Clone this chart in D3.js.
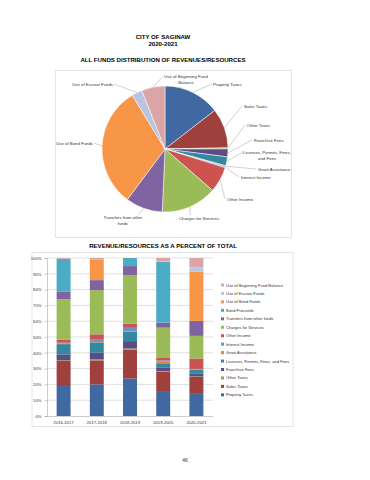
<!DOCTYPE html>
<html>
<head>
<meta charset="utf-8">
<script src="https://cdn.jsdelivr.net/npm/d3@7"></script>
<style>
  body { margin: 0; background: #fff; }
  text { font-family: "Liberation Sans", Arial, sans-serif; }
</style>
</head>
<body>
<svg id="chart" width="370" height="480"></svg>
<script>
// fiscal years on the stacked chart
const years = ["2016-2017", "2017-2018", "2018-2019", "2019-2020", "2020-2021"];

// share of total (percent) for each revenue source, one value per year
const propertyTaxes = [19.0, 20.0, 23.8, 15.8, 14.5];
const salesTaxes = [15.8, 15.2, 18.3, 12.3, 10.2];
const otherTaxes = [0.4, 0.6, 0.6, 0.3, 0.3];
const franchiseFees = [3.8, 4.2, 4.7, 2.4, 2.0];
const licenses = [6.5, 6.6, 5.9, 2.1, 2.3];
const grantAssistance = [0.3, 0.3, 0.3, 1.5, 0.2];
const interestIncome = [0.6, 1.4, 2.2, 0.8, 0.3];
const otherIncome = [2.0, 3.4, 2.7, 1.9, 6.6];
const chargesForServices = [25.5, 28.0, 30.7, 18.8, 14.3];
const transfers = [4.7, 6.3, 5.7, 3.2, 9.5];
const bondProceeds = [20.9, 0, 5.1, 38.5, 0];
const useOfBondFunds = [0, 13.2, 0, 0, 31.1];
const useOfEscrow = [0, 0, 0, 0.5, 2.7];
const useOfFundBalance = [0.5, 0.8, 0, 1.9, 6.0];

const categories = [
  "Property Taxes", "Sales Taxes", "Other Taxes", "Franchise Fees",
  "Licenses, Permits, Fines, and Fees", "Grant Assistance", "Interest Income",
  "Other Income", "Charges for Services", "Transfers from other funds",
  "Bond Proceeds", "Use of Bond Funds", "Use of Escrow Funds",
  "Use of Beginning Fund Balance"
];
const series = [
  propertyTaxes, salesTaxes, otherTaxes, franchiseFees, licenses,
  grantAssistance, interestIncome, otherIncome, chargesForServices,
  transfers, bondProceeds, useOfBondFunds, useOfEscrow, useOfFundBalance
];
const yTicks = [0, 10, 20, 30, 40, 50, 60, 70, 80, 90, 100];

const colors = [
  "#4068a1", "#a0403d", "#8da850", "#5e4a85", "#31889f", "#db843d", "#6e90c4",
  "#cd5350", "#9bbb59", "#8064a2", "#4bacc6", "#f79646", "#b7c5e0", "#dba5a7"
];

// pie label text (line breaks) and where Excel put them
const pieLabelText = {
  "Property Taxes": ["Property Taxes"],
  "Sales Taxes": ["Sales Taxes"],
  "Other Taxes": ["Other Taxes"],
  "Franchise Fees": ["Franchise Fees"],
  "Licenses, Permits, Fines, and Fees": ["Licenses, Permits, Fines,", "and Fees"],
  "Grant Assistance": ["Grant Assistance"],
  "Interest Income": ["Interest Income"],
  "Other Income": ["Other Income"],
  "Charges for Services": ["Charges for Services"],
  "Transfers from other funds": ["Transfers from other", "funds"],
  "Use of Bond Funds": ["Use of Bond Funds"],
  "Use of Escrow Funds": ["Use of Escrow Funds"],
  "Use of Beginning Fund Balance": ["Use of Beginning Fund", "Balance"]
};
const pieLabelAt = {
  "Property Taxes": [213, 84, "start", 212, 84],
  "Sales Taxes": [244, 106, "start", 242, 106],
  "Other Taxes": [247, 125, "start", 245, 125],
  "Franchise Fees": [254, 140, "start", 252, 140],
  "Licenses, Permits, Fines, and Fees": [267, 152, "middle", 243, 152],
  "Grant Assistance": [258, 169, "start", 256, 169],
  "Interest Income": [241, 177, "start", 239, 177],
  "Other Income": [227, 199, "start", 225, 199],
  "Charges for Services": [199, 218, "middle", 190, 215],
  "Transfers from other funds": [123, 217, "middle", 138, 215],
  "Use of Bond Funds": [93, 143, "end", 94, 143],
  "Use of Escrow Funds": [113, 84, "end", 114, 84],
  "Use of Beginning Fund Balance": [186, 76, "middle", 163, 76]
};

const svg = d3.select("#chart");
svg.append("rect").attr("width", 370).attr("height", 480).attr("fill", "#fff");

// titles
const titles = [
  ["CITY OF SAGINAW", 38.5], ["2020-2021", 45.5],
  ["ALL FUNDS DISTRIBUTION OF REVENUES/RESOURCES", 62],
  ["REVENUE/RESOURCES AS A PERCENT OF TOTAL", 248]
];
svg.selectAll(".title").data(titles).enter().append("text")
  .attr("class", "title")
  .attr("x", 163).attr("y", (d) => d[1])
  .attr("text-anchor", "middle")
  .attr("font-size", 6.1).attr("font-weight", "bold")
  .text((d) => d[0]);

// ---- pie ----
svg.append("rect").attr("x", 55.5).attr("y", 70.5).attr("width", 236).attr("height", 167)
  .attr("fill", "none").attr("stroke", "#d9d9d9").attr("stroke-width", 0.7);

const lastYear = years.length - 1;
const pieData = categories.map((c, i) => ({ name: c, value: series[i][lastYear], color: colors[i] }));
const cx = 165, cy = 149, r = 63;
const pie = d3.pie().sort(null).value((d) => d.value);
const arc = d3.arc().innerRadius(0).outerRadius(r);
const arcs = pie(pieData).filter((d) => d.data.value > 0);

const pieG = svg.append("g").attr("transform", `translate(${cx},${cy})`);
pieG.selectAll("path").data(arcs).enter().append("path")
  .attr("d", arc)
  .attr("fill", (d) => d.data.color)
  .attr("stroke", "#fff").attr("stroke-width", 0.5);

const labelG = svg.append("g");
arcs.forEach((d) => {
  const pos = pieLabelAt[d.data.name];
  if (!pos) return;
  const mid = (d.startAngle + d.endAngle) / 2;
  const sx = cx + r * Math.sin(mid), sy = cy - r * Math.cos(mid);
  labelG.append("line")
    .attr("x1", sx).attr("y1", sy).attr("x2", pos[3]).attr("y2", pos[4])
    .attr("stroke", "#8c8c8c").attr("stroke-width", 0.4);
  const t = labelG.append("text")
    .attr("x", pos[0]).attr("y", pos[1] + 1.5)
    .attr("text-anchor", pos[2])
    .attr("font-size", 4.3).attr("fill", "#333");
  pieLabelText[d.data.name].forEach((line, k) => {
    t.append("tspan").attr("x", pos[0]).attr("dy", k ? 6 : 0).text(line);
  });
});

// ---- stacked 100% bars ----
svg.append("rect").attr("x", 32).attr("y", 252.5).attr("width", 261).attr("height", 174)
  .attr("fill", "none").attr("stroke", "#d9d9d9").attr("stroke-width", 0.7);

const table = years.map((y, j) => {
  const row = { year: y };
  categories.forEach((c, i) => { row[c] = series[i][j]; });
  return row;
});

const x = d3.scaleBand().domain(years).range([47, 213]).paddingInner(0.58).paddingOuter(0.29);
const y = d3.scaleLinear().domain([0, 100]).range([416, 258]);

// gridlines
svg.append("g").selectAll("line").data(yTicks.slice(1)).enter().append("line")
  .attr("x1", 47).attr("x2", 213)
  .attr("y1", (d) => y(d)).attr("y2", (d) => y(d))
  .attr("stroke", "#bfbfbf").attr("stroke-width", 0.5);

const stack = d3.stack().keys(categories);
const layers = stack(table);
const barG = svg.append("g");
barG.selectAll("g").data(layers).enter().append("g")
  .attr("fill", (d, i) => colors[i])
  .selectAll("rect").data((d) => d).enter().append("rect")
  .attr("x", (d) => x(d.data.year))
  .attr("width", x.bandwidth())
  .attr("y", (d) => y(d[1]))
  .attr("height", (d) => y(d[0]) - y(d[1]));

const yAxis = svg.append("g").attr("transform", "translate(47,0)")
  .call(d3.axisLeft(y).tickValues(yTicks).tickFormat((d) => d + "%").tickSize(2.5).tickPadding(3));
const xAxis = svg.append("g").attr("transform", "translate(0,416)")
  .call(d3.axisBottom(x).tickSize(0).tickPadding(5));
[yAxis, xAxis].forEach((a) => {
  a.select(".domain").attr("stroke", "#999").attr("stroke-width", 0.5);
  a.selectAll(".tick line").attr("stroke", "#999").attr("stroke-width", 0.5);
  a.selectAll("text").attr("font-size", 4.2).attr("fill", "#333")
    .attr("font-family", "Liberation Sans, Arial, sans-serif");
});

// legend (top item is the last stacked series)
const legendItems = categories.map((c, i) => ({ name: c, color: colors[i] })).reverse();
const legend = svg.append("g").selectAll("g").data(legendItems).enter().append("g")
  .attr("transform", (d, i) => `translate(221,${285 + i * 8.45})`);
legend.append("rect").attr("x", 0).attr("y", -1.5).attr("width", 3).attr("height", 3)
  .attr("fill", (d) => d.color);
legend.append("text").attr("x", 5).attr("y", 1.5)
  .attr("font-size", 4.05).attr("fill", "#333").text((d) => d.name);

// page number
svg.append("text").attr("x", 185).attr("y", 462).attr("text-anchor", "middle")
  .attr("font-size", 5).attr("fill", "#333").text("46");
</script>
</body>
</html>
